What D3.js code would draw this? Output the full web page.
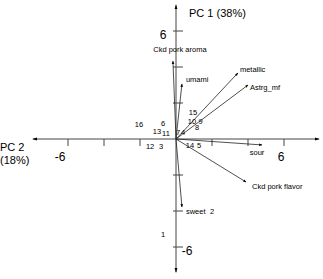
<!DOCTYPE html>
<html>
<head>
<meta charset="utf-8">
<script src="https://cdn.jsdelivr.net/npm/d3@7/dist/d3.min.js"></script>
<style>
  body { margin: 0; background: #fff; }
  svg { display: block; font-family: "Liberation Sans", Arial, sans-serif; }
</style>
</head>
<body>
<div id="chart"></div>
<script>
// sample scores (labels only, no markers)
const sampleIds = ["16", "13", "6", "11", "7", "4", "15", "10", "9", "8", "12", "3", "14", "5", "2", "1"];
const sampleX = [-2.06, -1.06, -0.72, -0.56, 0.11, 0.39, 0.94, 0.89, 1.36, 1.17, -1.44, -0.83, 0.78, 1.28, 2.0, -0.72];
const sampleY = [0.83, 0.44, 0.89, 0.33, 0.39, 0.39, 1.5, 1.0, 1.0, 0.67, -0.39, -0.39, -0.33, -0.33, -4.0, -5.28];

// attribute loadings (arrows)
const attrNames = ["Ckd pork aroma", "umami", "metallic", "Astrg_mf", "sour", "Ckd pork flavor", "sweet"];
const attrX = [-0.17, 0.33, 3.44, 4.0, 4.78, 3.89, 0.33];
const attrY = [4.33, 3.06, 3.67, 3.0, -0.33, -2.39, -3.78];

const ticks = [-6, -4, -2, 2, 4, 6];

// Set dimensions
const width = 323, height = 279;
const x = d3.scaleLinear().domain([-8, 8]).range([32, 320]);
const y = d3.scaleLinear().domain([-8, 8]).range([283, -5]);

const svg = d3.select("#chart").append("svg")
  .attr("width", width)
  .attr("height", height);

const defs = svg.append("defs");
defs.append("marker")
  .attr("id", "arr")
  .attr("viewBox", "0 0 10 10")
  .attr("refX", 9).attr("refY", 5)
  .attr("markerWidth", 4).attr("markerHeight", 4)
  .attr("orient", "auto")
  .append("path").attr("d", "M0,1L10,5L0,9Z").attr("fill", "#000");
defs.append("marker")
  .attr("id", "axarr")
  .attr("viewBox", "0 0 10 10")
  .attr("refX", 9).attr("refY", 5)
  .attr("markerWidth", 5).attr("markerHeight", 5)
  .attr("orient", "auto")
  .append("path").attr("d", "M0,2L10,5L0,8Z").attr("fill", "#000");

// axes (four arms from the origin)
const arms = [[-7.95, 0], [7.95, 0], [0, 7.45], [0, -7.4]];
svg.selectAll(".arm").data(arms).enter().append("line")
  .attr("x1", x(0)).attr("y1", y(0))
  .attr("x2", d => x(d[0])).attr("y2", d => y(d[1]))
  .attr("stroke", "#444").attr("stroke-width", 1)
  .attr("marker-end", "url(#axarr)");

// tick marks
svg.selectAll(".xt").data(ticks).enter().append("line")
  .attr("x1", d => x(d)).attr("x2", d => x(d))
  .attr("y1", y(0)).attr("y2", y(0) + 7)
  .attr("stroke", "#444").attr("stroke-width", 1);
svg.selectAll(".yt").data(ticks).enter().append("line")
  .attr("y1", d => y(d)).attr("y2", d => y(d))
  .attr("x1", x(0) - 3).attr("x2", x(0) + 7)
  .attr("stroke", "#444").attr("stroke-width", 1);

// tick labels
svg.append("text").attr("x", x(6) - 3).attr("y", y(0) + 22)
  .attr("text-anchor", "middle").style("font-size", "12px").text("6");
svg.append("text").attr("x", x(-6) - 8).attr("y", y(0) + 22)
  .attr("text-anchor", "middle").style("font-size", "12px").text("-6");
svg.append("text").attr("x", x(0) - 13).attr("y", y(6) + 8)
  .attr("text-anchor", "middle").style("font-size", "12px").text("6");
svg.append("text").attr("x", x(0) + 11).attr("y", y(-6) + 8)
  .attr("text-anchor", "middle").style("font-size", "12px").text("-6");

// axis titles
svg.append("text").attr("x", 189).attr("y", 17)
  .style("font-size", "11px").text("PC 1 (38%)");
svg.append("text").attr("x", 0).attr("y", 151)
  .style("font-size", "11px").text("PC 2");
svg.append("text").attr("x", 0).attr("y", 164)
  .style("font-size", "11px").text("(18%)");

// loading arrows
svg.selectAll(".vec").data(attrNames).enter().append("line")
  .attr("x1", x(0)).attr("y1", y(0))
  .attr("x2", (d, i) => x(attrX[i])).attr("y2", (d, i) => y(attrY[i]))
  .attr("stroke", "#222").attr("stroke-width", 0.8)
  .attr("marker-end", "url(#arr)");

// arrow labels
const labelPos = {
  "Ckd pork aroma": { dx: 7, dy: -9, anchor: "middle" },
  "umami": { dx: 4, dy: -2, anchor: "start" },
  "metallic": { dx: 2, dy: -1, anchor: "start" },
  "Astrg_mf": { dx: 2, dy: 5, anchor: "start" },
  "sour": { dx: -5, dy: 10, anchor: "middle" },
  "Ckd pork flavor": { dx: 6, dy: 7, anchor: "start" },
  "sweet": { dx: 4, dy: 7, anchor: "start" }
};
svg.selectAll(".vlab").data(attrNames).enter().append("text")
  .attr("x", (d, i) => x(attrX[i]) + labelPos[d].dx)
  .attr("y", (d, i) => y(attrY[i]) + labelPos[d].dy)
  .attr("text-anchor", d => labelPos[d].anchor)
  .style("font-size", "7.5px")
  .text(d => d);

// sample labels
svg.selectAll(".slab").data(sampleIds).enter().append("text")
  .attr("x", (d, i) => x(sampleX[i]))
  .attr("y", (d, i) => y(sampleY[i]))
  .attr("dy", "0.35em")
  .attr("text-anchor", "middle")
  .style("font-size", "7.5px")
  .text(d => d);
</script>
</body>
</html>
